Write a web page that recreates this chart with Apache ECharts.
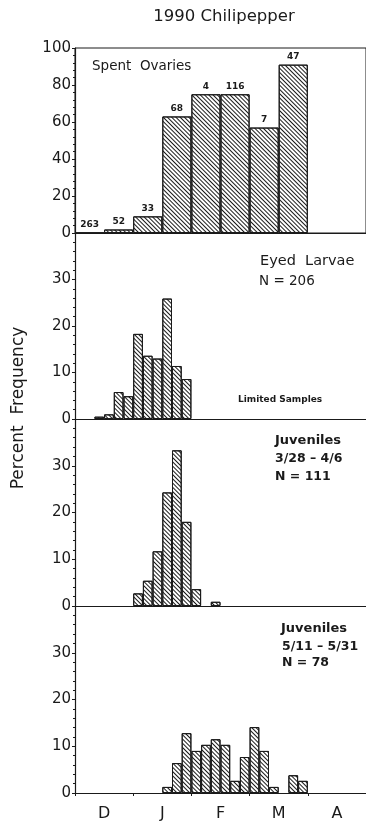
<!DOCTYPE html>
<html>
<head>
<meta charset="utf-8">
<script src="https://cdn.jsdelivr.net/npm/echarts@6/dist/echarts.min.js"></script>
<style>
html,body{margin:0;padding:0;background:#fff;}
#chart{width:366px;height:822px;}
</style>
</head>
<body>
<div id="chart"></div>
<script>
// 5-day bins, Dec through Apr
const bins = ['D1','D2','D3','D4','D5','D6','J1','J2','J3','J4','J5','J6','F1','F2','F3','F4','F5','F6','M1','M2','M3','M4','M5','M6','A1','A2','A3','A4','A5','A6'];
// half-month bins for spent ovaries
const halfMonths = ['Da','Db','Ja','Jb','Fa','Fb','Ma','Mb','Aa','Ab'];
const months = ['D','J','F','M','A'];

const ovariesPct = [0, 1.9, 9, 63, 75, 75, 57, 91, null, null];
const ovariesN = ['263','52','33','68','4','116','7','47'];

const larvaePct = [null,null,0.5,1,5.8,4.9,18.3,13.6,13,25.9,11.4,8.6,null,null,null,null,null,null,null,null,null,null,null,null,null,null,null,null,null,null];
const juv1Pct = [null,null,null,null,null,null,2.7,5.4,11.7,24.3,33.3,18,3.6,null,0.9,null,null,null,null,null,null,null,null,null,null,null,null,null,null,null];
const juv2Pct = [null,null,null,null,null,null,null,null,null,1.3,6.4,12.8,9,10.3,11.5,10.3,2.6,7.7,14.1,9,1.3,null,3.8,2.6,null,null,null,null,null,null];

const yTicksTop = [0,20,40,60,80,100];
const yTicksLow = [0,10,20,30];
const yMaxLow = 40;

const FONT = 'DejaVu Sans';
const INK = '#1a1a1a';

const chart = echarts.init(document.getElementById('chart'));

const decal = {
  symbol: 'rect', symbolSize: 1, color: INK, backgroundColor: null,
  dashArrayX: [1, 0], dashArrayY: [1, 2], rotation: Math.PI / 4
};
const barStyle = { color: '#fff', borderColor: INK, borderWidth: 1, decal: decal };

const tops = [48, 233, 419, 606];
const heights = [185, 186, 187, 187];
const grids = tops.map((t, i) => ({
  left: 75, width: 298, top: t, height: heights[i],
  show: i === 0, borderColor: INK, borderWidth: 1, backgroundColor: 'transparent'
}));

function yAxis(gi, ticks, max) {
  const interval = ticks[1] - ticks[0];
  return {
    type: 'value', gridIndex: gi, min: 0, max: max, interval: interval,
    axisLine: { show: true, lineStyle: { color: INK, width: 1.2 } },
    axisTick: { show: true, length: 3, lineStyle: { color: INK } },
    minorTick: { show: true, splitNumber: 5, length: 2, lineStyle: { color: INK } },
    splitLine: { show: false },
    axisLabel: {
      fontFamily: FONT, fontSize: 15, color: INK, margin: 4,
      formatter: v => (ticks.indexOf(v) >= 0 ? String(v) : '')
    }
  };
}

function xAxis(gi, data) {
  return {
    type: 'category', gridIndex: gi, data: data, position: 'bottom',
    axisLine: { show: true, onZero: false, lineStyle: { color: INK, width: 1.2 } },
    axisTick: { show: false }, axisLabel: { show: false }
  };
}

function txt(x, y, text, font, extra) {
  return { type: 'text', x: x, y: y,
    style: Object.assign({ text: text, font: font, fill: INK, verticalAlign: 'middle' }, extra || {}) };
}

const option = {
  backgroundColor: '#fff',
  animation: false,
  grid: grids,
  xAxis: [
    xAxis(0, halfMonths),
    xAxis(1, bins),
    xAxis(2, bins),
    xAxis(3, bins),
    {
      type: 'category', gridIndex: 3, data: months, position: 'bottom',
      axisLine: { show: false },
      axisTick: { show: true, length: 3, lineStyle: { color: INK } },
      axisLabel: { fontFamily: FONT, fontSize: 16, color: INK, margin: 13 }
    }
  ],
  yAxis: [
    yAxis(0, yTicksTop, yTicksTop[yTicksTop.length - 1]),
    yAxis(1, yTicksLow, yMaxLow),
    yAxis(2, yTicksLow, yMaxLow),
    yAxis(3, yTicksLow, yMaxLow)
  ],
  series: [
    {
      type: 'bar', xAxisIndex: 0, yAxisIndex: 0, data: ovariesPct,
      barCategoryGap: 0, itemStyle: barStyle,
      label: {
        show: true, position: 'top', distance: 3,
        fontFamily: FONT, fontSize: 9, fontWeight: 'bold', color: INK,
        formatter: p => (ovariesN[p.dataIndex] !== undefined ? ovariesN[p.dataIndex] : '')
      }
    },
    { type: 'bar', xAxisIndex: 1, yAxisIndex: 1, data: larvaePct, barCategoryGap: 0, itemStyle: barStyle },
    { type: 'bar', xAxisIndex: 2, yAxisIndex: 2, data: juv1Pct, barCategoryGap: 0, itemStyle: barStyle },
    { type: 'bar', xAxisIndex: 3, yAxisIndex: 3, data: juv2Pct, barCategoryGap: 0, itemStyle: barStyle }
  ],
  graphic: [
    txt(224, 17, '1990 Chilipepper', '16.5px "DejaVu Sans"', { align: 'center' }),
    { type: 'text', x: 19, y: 408, rotation: Math.PI / 2,
      style: { text: 'Percent  Frequency', font: '17px "DejaVu Sans"', fill: INK, align: 'center', verticalAlign: 'middle' } },
    txt(92, 66, 'Spent  Ovaries', '13.5px "DejaVu Sans"'),
    txt(260, 261, 'Eyed  Larvae', '14.5px "DejaVu Sans"'),
    txt(259, 281, 'N = 206', '13.5px "DejaVu Sans"'),
    txt(238, 400, 'Limited Samples', 'bold 9px "DejaVu Sans"'),
    txt(275, 441, 'Juveniles', 'bold 13px "DejaVu Sans"'),
    txt(275, 459, '3/28 – 4/6', 'bold 12.5px "DejaVu Sans"'),
    txt(275, 477, 'N = 111', 'bold 12.5px "DejaVu Sans"'),
    txt(281, 629, 'Juveniles', 'bold 13px "DejaVu Sans"'),
    txt(282, 647, '5/11 – 5/31', 'bold 12.5px "DejaVu Sans"'),
    txt(282, 663, 'N = 78', 'bold 12.5px "DejaVu Sans"')
  ]
};
chart.setOption(option);
</script>
</body>
</html>
